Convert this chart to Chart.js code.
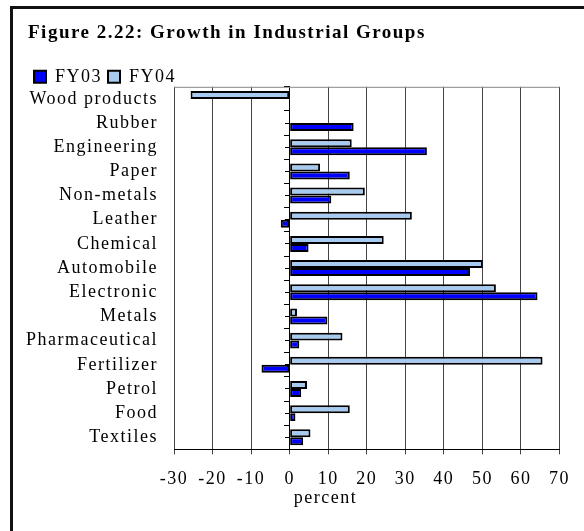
<!DOCTYPE html>
<html>
<head>
<meta charset="utf-8">
<script src="https://cdn.jsdelivr.net/npm/chart.js@4/dist/chart.umd.min.js"></script>
<style>
  html, body { margin: 0; padding: 0; background: #fff; }
  #wrap { position: relative; width: 584px; height: 531px; overflow: hidden; }
  #frame {
    position: absolute; left: 10px; top: 6px; width: 700px; height: 700px;
    border-left: 3px solid #111; border-top: 3px solid #111;
  }
  canvas { position: absolute; left: 0; top: 0; }
</style>
</head>
<body>
<div id="wrap">
  <div id="frame"></div>
  <canvas id="growthChart" width="584" height="531"></canvas>
</div>
<script>
// categories top to bottom, as in the figure
const categories = ['Wood products', 'Rubber', 'Engineering', 'Paper', 'Non-metals', 'Leather',
    'Chemical', 'Automobile', 'Electronic', 'Metals', 'Pharmaceutical', 'Fertilizer',
    'Petrol', 'Food', 'Textiles'];

// growth, percent
const fy03 = [null, 16.6, 35.6, 15.6, 10.8, -2.3, 4.9, 46.8, 64.3, 9.8, 2.5, -7.3, 3.0, 1.5, 3.5];
const fy04 = [-25.7, null, 16.1, 7.9, 19.5, 31.7, 24.4, 50.1, 53.5, 1.9, 13.7, 65.6, 4.5, 15.6, 5.4];

const xMin = -30;
const xMax = 70;
const xStep = 10;
const axisTitle = 'percent';

const serif = "'Liberation Serif', 'Times New Roman', serif";
Chart.defaults.font.family = serif;
Chart.defaults.font.size = 18;
Chart.defaults.color = '#000';

// the source figure has loosely spaced text
const spacing = {
    id: 'spacing',
    beforeUpdate(chart) { chart.ctx.letterSpacing = '1.5px'; },
    beforeDraw(chart) { chart.ctx.letterSpacing = '1.5px'; }
};

const tweaks = {
    id: 'tweaks',
    afterInit(chart) {
        // legend box is taller than the original one, trim it
        const legend = chart.legend;
        const fit = legend.fit;
        legend.fit = function () {
            fit.call(this);
            this.height -= 9;
        };
    },
    afterLayout(chart) {
        // don't clip long category names at the layout padding
        chart.scales.y.left = 0;
    },
    beforeDatasetsDraw(chart) {
        // grey top edge of the plot
        const { ctx, chartArea } = chart;
        ctx.save();
        ctx.strokeStyle = '#888';
        ctx.lineWidth = 1;
        ctx.beginPath();
        ctx.moveTo(chartArea.left, chartArea.top + 0.5);
        ctx.lineTo(chartArea.right, chartArea.top + 0.5);
        ctx.stroke();
        ctx.restore();
    },
    afterDraw(chart) {
        // axis title sits under the 10 tick in the original
        const { ctx } = chart;
        const x = chart.scales.x;
        ctx.save();
        ctx.font = '18px ' + serif;
        ctx.fillStyle = '#000';
        ctx.textAlign = 'center';
        ctx.textBaseline = 'alphabetic';
        ctx.fillText(axisTitle, x.getPixelForValue(9.3), x.top + 54);
        ctx.restore();
    }
};

const ctx = document.getElementById('growthChart');

new Chart(ctx, {
    type: 'bar',
    data: {
        labels: categories,
        datasets: [
            {
                label: 'FY04',
                data: fy04,
                backgroundColor: '#A6CAF0',
                borderColor: '#000',
                borderWidth: 2,
                borderSkipped: false
            },
            {
                label: 'FY03',
                data: fy03,
                backgroundColor: '#0000FF',
                borderColor: '#000',
                borderWidth: 2,
                borderSkipped: false
            }
        ]
    },
    options: {
        indexAxis: 'y',
        responsive: false,
        animation: false,
        maintainAspectRatio: false,
        categoryPercentage: 0.66,
        barPercentage: 1,
        layout: {
            padding: { top: 8, left: 28, right: 24, bottom: 27 }
        },
        scales: {
            x: {
                min: xMin,
                max: xMax,
                ticks: { stepSize: xStep, padding: 14 },
                grid: { color: '#444', tickLength: 5 },
                border: { color: '#000', width: 1 }
            },
            y: {
                position: 'left',
                grid: { display: false, drawTicks: false },
                border: { display: false },
                ticks: { padding: 16, autoSkip: false },
                afterFit(scale) { scale.width = 146; }
            },
            yz: {
                type: 'category',
                axis: 'y',
                position: { x: 0 },
                offset: true,
                ticks: { display: false },
                grid: { drawOnChartArea: false, offset: true, tickLength: 5, color: '#000' },
                border: { color: '#000', width: 1 }
            },
            yc: {
                type: 'category',
                axis: 'y',
                position: { x: 0 },
                offset: true,
                ticks: { display: false },
                grid: { drawOnChartArea: false, offset: false, tickLength: 5, color: '#000' },
                border: { display: false }
            }
        },
        plugins: {
            title: {
                display: true,
                text: 'Figure 2.22: Growth in Industrial Groups',
                align: 'start',
                font: { size: 19, weight: 'bold' },
                padding: { top: 14, bottom: 17 }
            },
            legend: {
                position: 'top',
                align: 'start',
                reverse: true,
                labels: {
                    boxWidth: 12,
                    boxHeight: 12,
                    padding: 6,
                    font: { size: 18 }
                }
            },
            tooltip: { enabled: false }
        }
    },
    plugins: [spacing, tweaks]
});
</script>
</body>
</html>
